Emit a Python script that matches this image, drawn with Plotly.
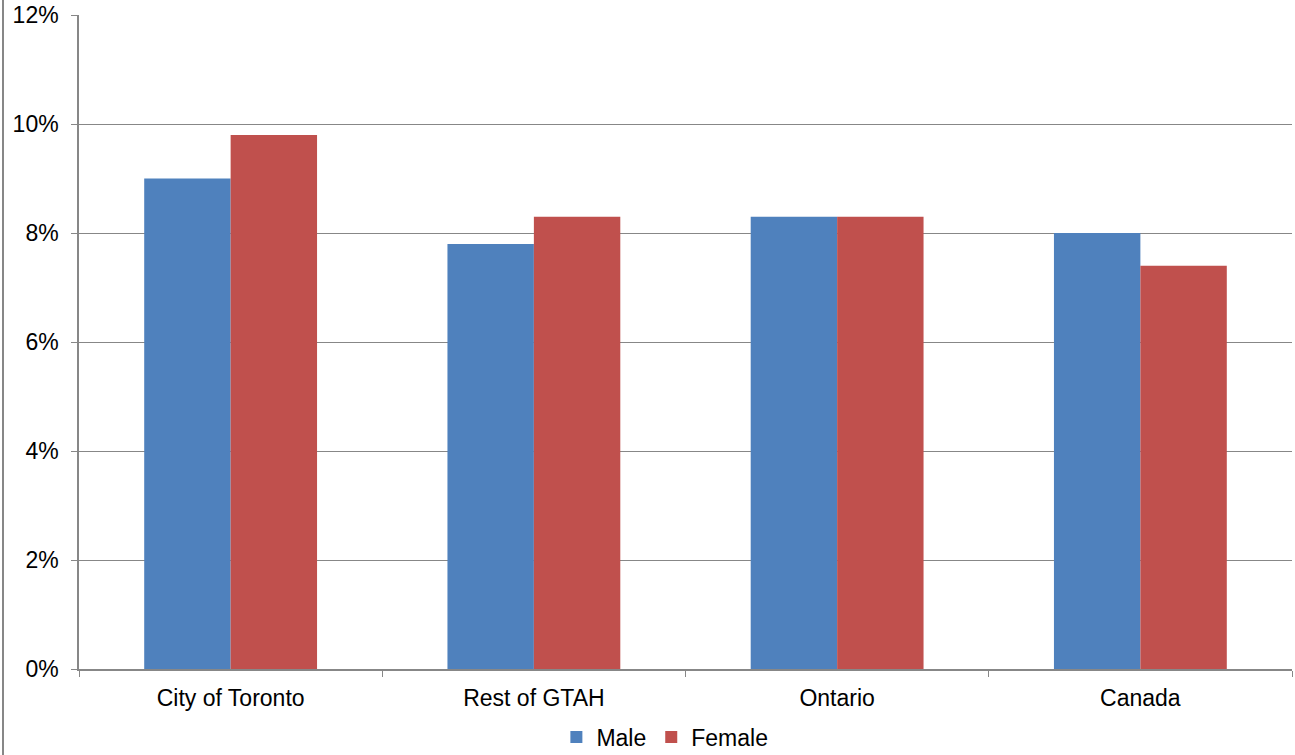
import plotly.graph_objects as go

categories = ["City of Toronto", "Rest of GTAH", "Ontario", "Canada"]
male = [0.090, 0.078, 0.083, 0.080]
female = [0.098, 0.083, 0.083, 0.074]
y_ticks = [0, 0.02, 0.04, 0.06, 0.08, 0.10, 0.12]
y_tick_labels = ["0%", "2%", "4%", "6%", "8%", "10%", "12%"]

fig = go.Figure()
fig.add_trace(go.Bar(name="Male", x=categories, y=male, marker=dict(color="#4F81BD", line=dict(width=0))))
fig.add_trace(go.Bar(name="Female", x=categories, y=female, marker=dict(color="#C0504D", line=dict(width=0))))

W, H = 1295, 755
ml, mr, mt, mb = 79, 3, 15, 86
pw = W - ml - mr
ph = H - mt - mb
FS = 23

fig.update_layout(
    width=W, height=H,
    margin=dict(l=ml, r=mr, t=mt, b=mb, autoexpand=False),
    paper_bgcolor="white", plot_bgcolor="white",
    barmode="group", bargap=0.43, bargroupgap=0,
    font=dict(family="Liberation Sans, Arial, sans-serif", size=FS, color="black"),
    showlegend=True,
    legend=dict(orientation="h", x=0.483, xanchor="center", y=(669 - 737) / ph, yanchor="middle",
                font=dict(size=FS), itemwidth=30, tracegroupgap=0, bgcolor="rgba(0,0,0,0)"),
    xaxis=dict(showline=True, linecolor="#878787", linewidth=1.5,
               ticks="outside", tickson="boundaries", ticklen=6, tickcolor="#878787",
               showgrid=False, tickfont=dict(size=FS), ticklabelstandoff=8),
    yaxis=dict(range=[0, 0.12], tickvals=y_ticks, ticktext=y_tick_labels,
               showline=True, linecolor="#878787", linewidth=1.5,
               ticks="outside", ticklen=6, tickcolor="#878787",
               showgrid=True, gridcolor="#878787", gridwidth=1,
               zeroline=False, tickfont=dict(size=FS), ticklabelstandoff=8),
    shapes=[dict(type="line", xref="paper", yref="paper",
                 x0=(3 - ml) / pw, x1=(3 - ml) / pw, y0=-0.2, y1=1.1,
                 line=dict(color="#878787", width=2))],
)

fig.write_html("out.html")
